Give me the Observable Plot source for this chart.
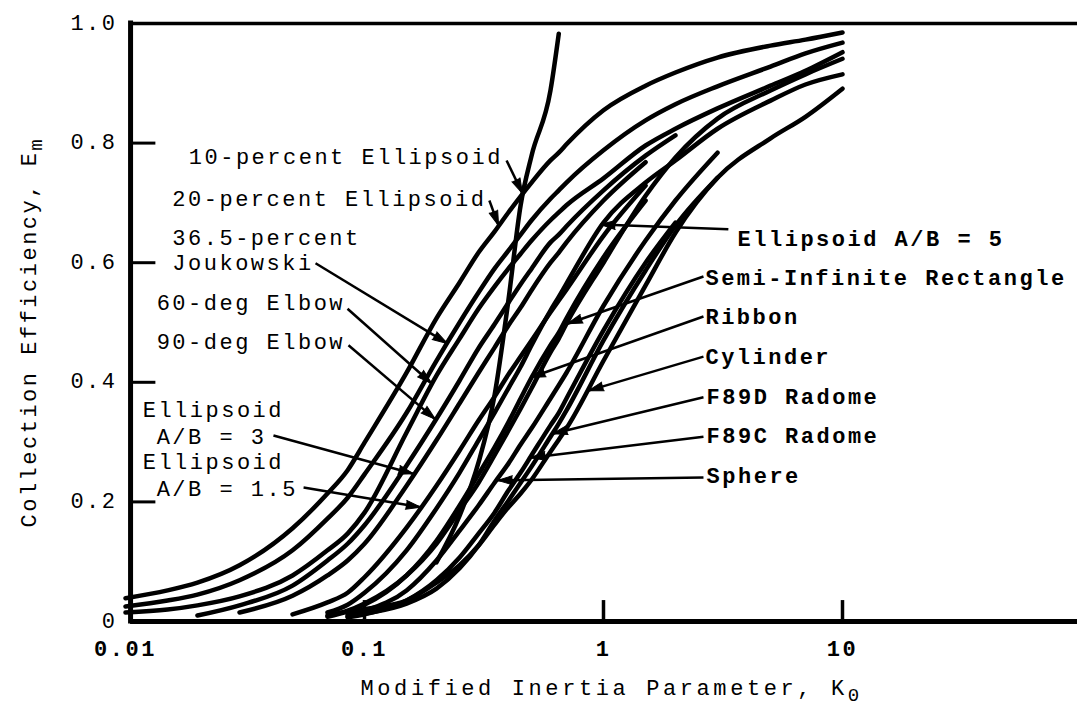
<!DOCTYPE html>
<html><head><meta charset="utf-8">
<script src="https://cdn.jsdelivr.net/npm/d3@7"></script>
<script src="https://cdn.jsdelivr.net/npm/@observablehq/plot@0.6"></script>
<style>
html,body{margin:0;padding:0;background:#fff;overflow:hidden}
svg text{font-family:"Liberation Mono","DejaVu Sans Mono",monospace;letter-spacing:2.5px}
</style></head><body><div id="chart"></div>
<script>
// Modified inertia parameter grid (x values shared by all curves)
const kGrid = [0.01,0.015,0.02,0.03,0.05,0.07,0.085,0.1,0.15,0.2,0.25,0.3,0.35,0.4,0.45,0.5,0.6,0.65,0.7,1,1.5,2,3,5,7,10];
const _ = null;
// Collection efficiency of each body on kGrid (null = curve not drawn there)
const eEllipsoid10 = [_,_,_,_,_,_,_,_,_,0.099,0.177,0.266,0.378,0.537,0.696,0.779,0.888,0.983,_,_,_,_,_,_,_,_];
const eEllipsoid20 = [0.039,0.052,0.065,0.094,0.156,0.214,0.253,0.299,0.416,0.507,0.567,0.617,0.652,0.684,0.711,0.734,0.771,0.784,0.798,0.855,0.896,0.918,0.943,0.963,0.973,0.985];
const eJoukowski   = [0.025,0.035,0.045,0.069,0.119,0.172,0.207,0.246,0.349,0.436,0.500,0.550,0.590,0.620,0.647,0.671,0.707,0.721,0.734,0.788,0.838,0.865,0.895,0.928,0.950,0.968];
const eElbow60     = [0.015,0.020,0.027,0.042,0.077,0.119,0.147,0.182,0.316,0.411,0.473,0.523,0.560,0.590,0.615,0.637,0.671,0.684,0.696,0.741,0.796,0.824,0.858,0.896,0.921,0.952];
const eElbow90     = [_,_,0.010,0.027,0.060,0.102,0.130,0.161,0.261,0.339,0.403,0.457,0.497,0.533,0.564,0.590,0.634,0.647,0.661,0.721,0.779,0.813,_,_,_,_];
const eEllipsoid3  = [_,_,_,0.015,0.043,0.077,0.102,0.130,0.227,0.303,0.365,0.416,0.458,0.495,0.525,0.554,0.600,0.617,0.634,0.704,0.768,_,_,_,_,_];
const eEllipsoid15 = [_,_,_,_,0.012,0.032,0.048,0.074,0.157,0.227,0.286,0.336,0.376,0.413,0.443,0.470,0.517,0.537,0.555,0.645,0.729,_,_,_,_,_];
const eEllipsoid5  = [_,_,_,_,_,0.015,0.028,0.048,0.119,0.189,0.249,0.303,0.349,0.390,0.426,0.462,0.520,0.543,0.565,0.667,0.734,0.771,0.824,0.871,0.898,0.915];
const eSemiInfRect = [_,_,_,_,_,0.010,0.018,0.030,0.077,0.130,0.186,0.232,0.278,0.319,0.356,0.390,0.450,0.473,0.498,0.600,0.712,0.776,0.841,0.888,0.915,0.941];
const eRibbon      = [_,_,_,_,_,0.008,0.017,0.028,0.077,0.135,0.194,0.246,0.291,0.333,0.373,0.408,0.462,0.483,0.507,0.609,0.704,_,_,_,_,_];
const eCylinder    = [_,_,_,_,_,_,0.013,0.020,0.035,0.065,0.094,0.127,0.162,0.191,0.214,0.237,0.284,0.304,0.323,0.436,0.562,0.650,0.742,0.808,0.844,0.891];
const eF89D        = [_,_,_,_,_,_,0.008,0.013,0.030,0.055,0.089,0.127,0.169,0.202,0.232,0.259,0.309,0.331,0.353,0.470,0.587,0.662,0.742,_,_,_];
const eF89C        = [_,_,_,_,_,_,0.007,0.012,0.035,0.069,0.107,0.147,0.182,0.219,0.249,0.278,0.328,0.349,0.373,0.487,0.600,0.667,_,_,_,_];
const eSphere      = [_,_,_,_,_,_,0.010,0.018,0.052,0.102,0.152,0.194,0.232,0.264,0.296,0.323,0.373,0.395,0.416,0.528,0.637,0.704,0.784,_,_,_];

// Axis ticks
const xTicks = [0.01, 0.1, 1, 10];
const xTickLabels = ["0.01", "0.1", "1", "10"];
const yTicks = [0, 0.2, 0.4, 0.6, 0.8, 1.0];
const yTickLabels = ["0", "0.2", "0.4", "0.6", "0.8", "1.0"];

// Labels (left block and right block), anchored at their left end
const leftLabels = ["10-percent Ellipsoid","20-percent Ellipsoid","36.5-percent","Joukowski","60-deg Elbow","90-deg Elbow","Ellipsoid","A/B = 3","Ellipsoid","A/B = 1.5"];
const leftLabelK = [0.0184,0.0157,0.0157,0.0157,0.0135,0.0135,0.0118,0.0135,0.0118,0.0135];
const leftLabelE = [0.776,0.706,0.642,0.599,0.533,0.468,0.353,0.309,0.266,0.221];
const rightLabels = ["Ellipsoid A/B = 5","Semi-Infinite Rectangle","Ribbon","Cylinder","F89D Radome","F89C Radome","Sphere"];
const rightLabelK = [3.64,2.67,2.67,2.67,2.70,2.70,2.70];
const rightLabelE = [0.640,0.575,0.510,0.443,0.376,0.311,0.244];

// Leader lines: from label to curve (arrow tip)
const leaderFromK = [0.393,0.333,0.0624,0.0849,0.0857,0.0416,0.0556,3.33,2.62,2.62,2.62,2.62,2.62,2.62];
const leaderFromE = [0.771,0.704,0.599,0.523,0.462,0.311,0.224,0.656,0.577,0.510,0.443,0.375,0.309,0.241];
const leaderToK   = [0.458,0.364,0.222,0.191,0.198,0.160,0.172,0.97,0.707,0.495,0.866,0.612,0.495,0.36];
const leaderToE   = [0.716,0.662,0.465,0.398,0.338,0.247,0.191,0.664,0.498,0.408,0.386,0.314,0.274,0.236];

const axisLeftK = 0.0105; // the left frame line sits just right of 0.01

const series = [
  ["10-percent Ellipsoid", eEllipsoid10], ["20-percent Ellipsoid", eEllipsoid20],
  ["36.5-percent Joukowski", eJoukowski], ["60-deg Elbow", eElbow60], ["90-deg Elbow", eElbow90],
  ["Ellipsoid A/B = 3", eEllipsoid3], ["Ellipsoid A/B = 1.5", eEllipsoid15], ["Ellipsoid A/B = 5", eEllipsoid5],
  ["Semi-Infinite Rectangle", eSemiInfRect], ["Ribbon", eRibbon], ["Cylinder", eCylinder],
  ["F89D Radome", eF89D], ["F89C Radome", eF89C], ["Sphere", eSphere]
];
const curveData = series.flatMap(([name, es]) => kGrid.map((k, i) => ({name, k, e: es[i]})).filter(d => d.e != null));
const leaders = leaderFromK.map((fk, i) => ({fk, fe: leaderFromE[i], tk: leaderToK[i], te: leaderToE[i]}));

function baseMarks() {
  return [
    Plot.line(curveData, {x: "k", y: "e", z: "name", stroke: "black", strokeWidth: 4.5, curve: "monotone-x", strokeLinejoin: "round", strokeLinecap: "round"}),
    Plot.link(leaders, {x1: "fk", y1: "fe", x2: "tk", y2: "te", stroke: "black", strokeWidth: 2.5}),
    // frame
    Plot.ruleY([0], {x1: axisLeftK, x2: 100, stroke: "black", strokeWidth: 5}),
    Plot.ruleY([1], {x1: axisLeftK, x2: 100, stroke: "black", strokeWidth: 3.5}),
    Plot.ruleX([axisLeftK], {y1: 0, y2: 1, stroke: "black", strokeWidth: 5, strokeLinecap: "square"}),
    Plot.ruleY(yTicks.slice(1, -1), {x1: axisLeftK, x2: 0.0134, stroke: "black", strokeWidth: 3}),
    Plot.ruleX(xTicks.slice(1), {y1: 0, y2: 0.035, stroke: "black", strokeWidth: 3.5}),
    // tick labels
    Plot.text(yTicks, {y: d => d, frameAnchor: "left", lineAnchor: "middle", dx: -8, dy: -1, textAnchor: "end", text: (d, i) => yTickLabels[i], fontSize: 22}),
    Plot.text(xTicks, {x: d => d, frameAnchor: "bottom", lineAnchor: "middle", dy: 27, text: (d, i) => xTickLabels[i], fontSize: 22, fontWeight: "bold"}),
    // axis titles
    Plot.text(["Collection Efficiency, E"], {frameAnchor: "bottom-left", lineAnchor: "middle", dx: -97, dy: -94, rotate: -90, textAnchor: "start", fontSize: 22}),
    Plot.text(["Modified Inertia Parameter, K"], {frameAnchor: "bottom-left", lineAnchor: "middle", dx: 235, dy: 66, textAnchor: "start", fontSize: 22}),
    // curve labels
    Plot.text(leftLabels, {x: (d, i) => leftLabelK[i], y: (d, i) => leftLabelE[i], text: d => d, textAnchor: "start", lineAnchor: "middle", fontSize: 22}),
    Plot.text(rightLabels, {x: (d, i) => rightLabelK[i], y: (d, i) => rightLabelE[i], text: d => d, textAnchor: "start", lineAnchor: "middle", fontSize: 22, fontWeight: "bold"})
  ];
}

function makePlot(extraMarks) {
  return Plot.plot({
    width: 1077, height: 706,
    marginLeft: 125, marginRight: 0, marginTop: 23, marginBottom: 85,
    x: {type: "log", domain: [0.01, 100], range: [125, 1081], axis: null},
    y: {domain: [0, 1], range: [621, 23], axis: null},
    style: {background: "white", color: "black", overflow: "hidden"},
    marks: [...baseMarks(), ...extraMarks]
  });
}

// first pass to obtain the plot's scales, used to orient the arrowheads
const p0 = makePlot([]);
const sxs = p0.scale("x"), sys = p0.scale("y");
const sx = sxs.apply ? (v => sxs.apply(v)) : d3.scaleLog(sxs.domain, sxs.range);
const sy = sys.apply ? (v => sys.apply(v)) : d3.scaleLinear(sys.domain, sys.range);
leaders.forEach(d => {
  const dx = sx(d.tk) - sx(d.fk), dy = sy(d.te) - sy(d.fe);
  d.ang = Math.atan2(dx, -dy) * 180 / Math.PI;
});

const heads = Plot.vector(leaders, {x: "tk", y: "te", rotate: "ang", length: 15, shape: "spike", r: 4.5, anchor: "end", fill: "black", stroke: "black", strokeWidth: 1});
const chart = makePlot([heads]);

// subscripts
chart.querySelectorAll("text").forEach(t => {
  const s = t.textContent;
  if (s === "Collection Efficiency, E" || s === "Modified Inertia Parameter, K") {
    const ns = "http://www.w3.org/2000/svg";
    const sub = document.createElementNS(ns, "tspan");
    sub.setAttribute("dy", "6");
    sub.setAttribute("font-size", "19");
    sub.textContent = s.endsWith("E") ? "m" : "0";
    t.appendChild(sub);
    if (s.endsWith("K")) t.style.letterSpacing = "3.6px";
  }
});
document.getElementById("chart").appendChild(chart);
</script></body></html>
